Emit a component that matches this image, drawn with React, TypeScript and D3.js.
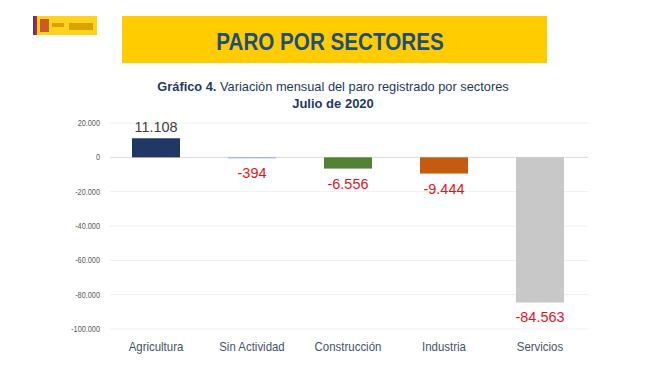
import React, { useRef, useEffect } from 'react';
import * as d3 from 'd3';

const sectors = ['Agricultura', 'Sin Actividad', 'Construcción', 'Industria', 'Servicios'];
const values = [11108, -394, -6556, -9444, -84563];
const valueLabels = ['11.108', '-394', '-6.556', '-9.444', '-84.563'];
const barColors = ['#1f3864', '#8eaadb', '#548235', '#c55a11', '#c8c8c8'];
const yTicks = [20000, 0, -20000, -40000, -60000, -80000, -100000];
const yTickLabels = ['20.000', '0', '-20.000', '-40.000', '-60.000', '-80.000', '-100.000'];

const FONT = "'Liberation Sans', Arial, sans-serif";

// squeeze text horizontally to imitate the narrow font of the original
const narrow = (sel: any, f: number) => {
  sel.each(function (this: SVGTextElement) {
    const w = this.getComputedTextLength();
    if (w > 0) {
      d3.select(this).attr('textLength', w * f).attr('lengthAdjust', 'spacingAndGlyphs');
    }
  });
};

const App = () => {
  const ref = useRef<SVGSVGElement>(null);

  useEffect(() => {
    const svg = d3.select(ref.current);
    svg.selectAll('*').remove();

    // logo
    const logo = svg.append('g');
    logo.append('rect').attr('x', 33).attr('y', 16).attr('width', 64).attr('height', 19).attr('fill', '#ffd21f');
    logo.append('rect').attr('x', 33).attr('y', 16).attr('width', 2).attr('height', 19).attr('fill', '#3a3f8f');
    logo.append('rect').attr('x', 35).attr('y', 16).attr('width', 2).attr('height', 19).attr('fill', '#d0202a');
    logo.append('rect').attr('x', 40).attr('y', 19).attr('width', 9).attr('height', 13).attr('fill', '#c0392b').attr('opacity', 0.8);
    logo.append('rect').attr('x', 52).attr('y', 23).attr('width', 12).attr('height', 4).attr('fill', '#d9a400');
    logo.append('rect').attr('x', 69).attr('y', 23).attr('width', 24).attr('height', 7).attr('fill', '#d9a400');

    // header
    svg.append('rect').attr('x', 122).attr('y', 16).attr('width', 425).attr('height', 47).attr('fill', '#ffcc00');
    svg.append('text').attr('x', 330).attr('y', 50).attr('text-anchor', 'middle')
      .attr('font-family', FONT).attr('font-weight', 'bold').attr('font-size', 24)
      .attr('fill', '#1f4e79').text('PARO POR SECTORES')
      .call(narrow, 0.86);

    const sub = svg.append('text').attr('x', 333).attr('y', 91).attr('text-anchor', 'middle')
      .attr('font-family', FONT).attr('font-size', 13).attr('fill', '#1f3864');
    sub.append('tspan').attr('font-weight', 'bold').text('Gráfico 4.');
    sub.append('tspan').text(' Variación mensual del paro registrado por sectores');
    sub.call(narrow, 0.985);
    svg.append('text').attr('x', 333).attr('y', 108).attr('text-anchor', 'middle')
      .attr('font-family', FONT).attr('font-size', 13).attr('font-weight', 'bold')
      .attr('fill', '#1f3864').text('Julio de 2020');

    // chart
    const left = 108, right = 588;
    const x = d3.scaleBand().domain(sectors).range([left, right]).paddingInner(0.5).paddingOuter(0.25);
    const y = d3.scaleLinear().domain([-100000, 20000]).range([329, 123]);

    const g = svg.append('g');
    g.selectAll('.grid').data(yTicks).enter().append('line')
      .attr('x1', 110).attr('x2', right)
      .attr('y1', d => y(d)).attr('y2', d => y(d))
      .attr('stroke', d => d === 0 ? '#d9d9d9' : '#efefef').attr('stroke-width', 1);

    g.selectAll('.ytick').data(yTicks).enter().append('text')
      .attr('x', 100).attr('y', d => y(d) + 3).attr('text-anchor', 'end')
      .attr('font-family', FONT).attr('font-size', 8.5).attr('fill', '#595959')
      .text((d, i) => yTickLabels[i])
      .call(narrow, 0.86);

    g.selectAll('.bar').data(values).enter().append('rect')
      .attr('x', (d, i) => x(sectors[i])!)
      .attr('width', x.bandwidth())
      .attr('y', d => y(Math.max(0, d)))
      .attr('height', d => Math.max(1, Math.abs(y(d) - y(0))))
      .attr('fill', (d, i) => barColors[i]);

    g.selectAll('.vlabel').data(values).enter().append('text')
      .attr('x', (d, i) => x(sectors[i])! + x.bandwidth() / 2)
      .attr('y', d => d >= 0 ? y(d) - 6 : y(d) + 20)
      .attr('text-anchor', 'middle')
      .attr('font-family', FONT).attr('font-size', 15.5)
      .attr('fill', d => d >= 0 ? '#404040' : '#e3141e')
      .text((d, i) => valueLabels[i])
      .call(narrow, 0.93);

    g.selectAll('.xlabel').data(sectors).enter().append('text')
      .attr('x', d => x(d)! + x.bandwidth() / 2)
      .attr('y', 351).attr('text-anchor', 'middle')
      .attr('font-family', FONT).attr('font-size', 13).attr('fill', '#44546a')
      .text(d => d)
      .call(narrow, 0.88);
  });

  return <svg ref={ref} width={650} height={365} style={{ position: 'absolute', left: 0, top: 0, background: '#fff' }}></svg>;
};

export default App;
